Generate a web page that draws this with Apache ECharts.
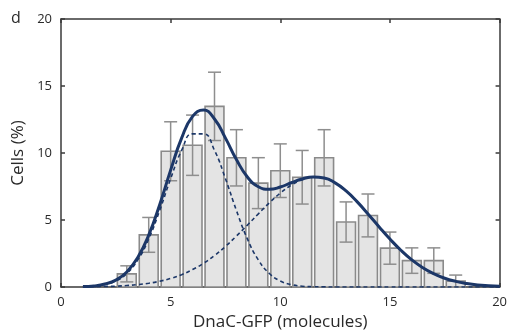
<!DOCTYPE html>
<html>
<head>
<meta charset="utf-8">
<script src="https://cdn.jsdelivr.net/npm/echarts@6/dist/echarts.min.js"></script>
<style>html,body{margin:0;padding:0;background:#fff}#c{width:510px;height:336px}</style>
</head>
<body>
<div id="c"></div>
<script>
// Histogram bins (molecules), cell percentages and error bar half-widths
const binCenters = [3, 4, 5, 6, 7, 8, 9, 10, 11, 12, 13, 14, 15, 16, 17, 18];
const cellPct    = [0.98, 3.89, 10.13, 10.58, 13.48, 9.64, 7.75, 8.68, 8.19, 9.64, 4.85, 5.34, 2.90, 1.97, 1.97, 0.44];
const errPct     = [0.60, 1.30, 2.20, 2.25, 2.55, 2.10, 1.90, 2.00, 2.00, 2.10, 1.50, 1.60, 1.20, 0.95, 0.95, 0.45];

// Fitted curves
const curveX = [1, 1.5, 2, 2.5, 3, 3.5, 4, 4.5, 5, 5.5, 6, 6.5, 7, 7.5, 8, 8.5, 9, 9.5, 10, 10.5,
                11, 11.5, 12, 12.5, 13, 13.5, 14, 14.5, 15, 15.5, 16, 16.5, 17, 17.5, 18, 18.5, 19, 19.5, 20];
const totalFit = [0.03, 0.08, 0.22, 0.51, 1.12, 2.20, 3.87, 6.14, 8.72, 11.11, 12.73, 13.20, 12.54, 11.11, 9.51, 8.21, 7.48, 7.29, 7.46, 7.78,
                  8.06, 8.21, 8.14, 7.77, 7.17, 6.37, 5.45, 4.50, 3.58, 2.74, 2.02, 1.44, 0.99, 0.65, 0.42, 0.26, 0.15, 0.09, 0.05];
const fit1 = [0.02, 0.06, 0.18, 0.45, 1.01, 2.02, 3.59, 5.71, 8.08, 10.19, 11.43, 11.43, 10.19, 8.08, 5.71, 3.59, 2.02, 1.01, 0.45, 0.18,
              0.06, 0.02, 0.01, 0, 0, 0, 0, 0, 0, 0, 0, 0, 0, 0, 0, 0, 0, 0, 0];
const fit2 = [0.01, 0.02, 0.04, 0.06, 0.11, 0.18, 0.28, 0.43, 0.64, 0.92, 1.30, 1.77, 2.35, 3.03, 3.80, 4.62, 5.46, 6.28, 7.01, 7.60,
              8.00, 8.19, 8.13, 7.77, 7.17, 6.37, 5.45, 4.50, 3.58, 2.74, 2.02, 1.44, 0.99, 0.65, 0.42, 0.26, 0.15, 0.09, 0.05];

const xTicks = [0, 5, 10, 15, 20];
const yTicks = [0, 5, 10, 15, 20];

const barData = binCenters.map((x, i) => [x, cellPct[i], errPct[i]]);
const pair = arr => curveX.map((x, i) => [x, arr[i]]);

const FONT = '"Open Sans", "Noto Sans", sans-serif';
const TXT = '#2a2a2a';
const AX = '#3a3a3a';
const NAVY = '#1c3768';

const chart = echarts.init(document.getElementById('c'), null, {renderer: 'canvas'});

function axisCommon(show, ticks) {
  return {
    min: 0, max: 20, interval: 5,
    axisLine: {show: true, onZero: false, lineStyle: {color: AX, width: 1.5}},
    axisTick: {show: true, inside: true, length: 4, lineStyle: {color: AX, width: 1.5}},
    axisLabel: {show: show, color: TXT, fontSize: 13, fontFamily: FONT, margin: 9,
                formatter: v => (ticks.indexOf(v) >= 0 ? String(v) : '')},
    splitLine: {show: false}
  };
}

chart.setOption({
  animation: false,
  backgroundColor: '#fff',
  title: {text: 'd', left: 6, top: 5, textStyle: {fontSize: 16, fontWeight: 'normal', color: TXT, fontFamily: FONT}},
  grid: {left: 61, right: 8, top: 19, bottom: 46},
  xAxis: [
    Object.assign(axisCommon(true, xTicks), {type: 'value', position: 'bottom',
      name: 'DnaC-GFP (molecules)', nameLocation: 'middle', nameGap: 27,
      nameTextStyle: {fontSize: 17, color: TXT, fontFamily: FONT}}),
    Object.assign(axisCommon(false, xTicks), {type: 'value', position: 'top'})
  ],
  yAxis: [
    Object.assign(axisCommon(true, yTicks), {type: 'value', position: 'left',
      name: 'Cells (%)', nameLocation: 'middle', nameGap: 30,
      nameTextStyle: {fontSize: 17, color: TXT, fontFamily: FONT}}),
    Object.assign(axisCommon(false, yTicks), {type: 'value', position: 'right'})
  ],
  series: [
    {
      type: 'custom',
      xAxisIndex: 0, yAxisIndex: 0,
      data: barData,
      z: 2,
      renderItem: function (params, api) {
        const x = api.value(0), v = api.value(1), e = api.value(2);
        const top = api.coord([x, v]);
        const base = api.coord([x, 0]);
        const w = api.size([0.86, 0])[0];
        const eTop = api.coord([x, v + e]);
        const eBot = api.coord([x, Math.max(v - e, 0)]);
        const cap = 13;
        const ls = {stroke: '#8e8e8e', lineWidth: 1.5};
        return {
          type: 'group',
          children: [
            {type: 'rect', shape: {x: top[0] - w / 2, y: top[1], width: w, height: base[1] - top[1]},
             style: {fill: '#e4e4e4', stroke: '#8a8a8a', lineWidth: 1.6}},
            {type: 'line', shape: {x1: eTop[0], y1: eTop[1], x2: eBot[0], y2: eBot[1]}, style: ls},
            {type: 'line', shape: {x1: eTop[0] - cap / 2, y1: eTop[1], x2: eTop[0] + cap / 2, y2: eTop[1]}, style: ls},
            {type: 'line', shape: {x1: eBot[0] - cap / 2, y1: eBot[1], x2: eBot[0] + cap / 2, y2: eBot[1]}, style: ls}
          ]
        };
      }
    },
    {
      type: 'line', data: pair(fit1), smooth: true, showSymbol: false, z: 3,
      lineStyle: {color: NAVY, width: 1.6, type: [4, 3]}
    },
    {
      type: 'line', data: pair(fit2), smooth: true, showSymbol: false, z: 3,
      lineStyle: {color: NAVY, width: 1.6, type: [4, 3]}
    },
    {
      type: 'line', data: pair(totalFit), smooth: true, showSymbol: false, z: 4,
      lineStyle: {color: NAVY, width: 3}
    }
  ]
});
</script>
</body>
</html>
